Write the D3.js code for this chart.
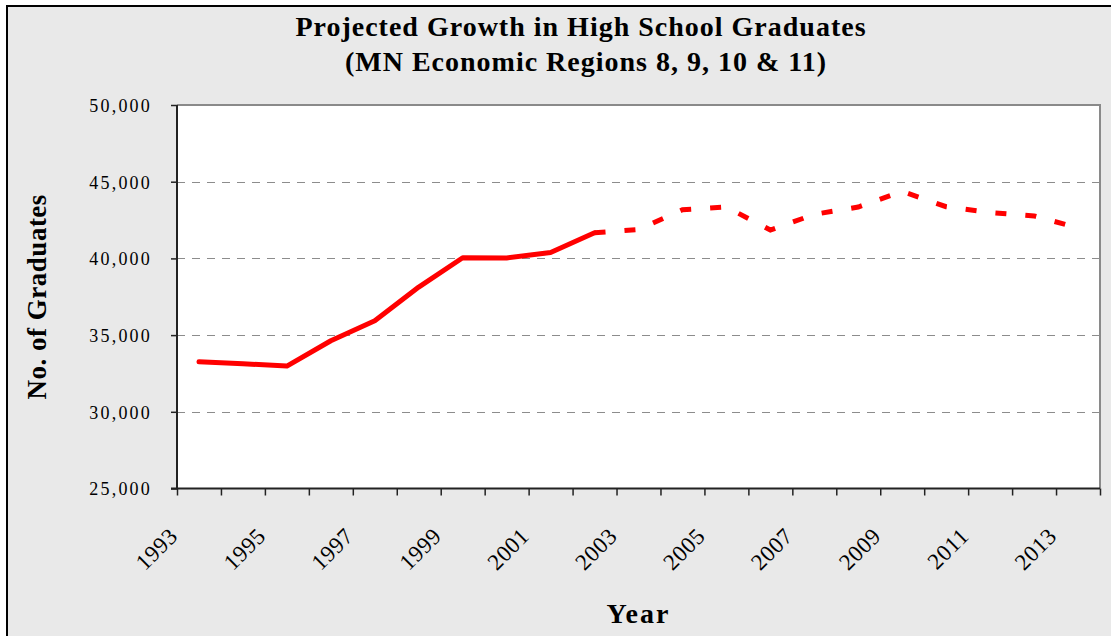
<!DOCTYPE html>
<html>
<head>
<meta charset="utf-8">
<script src="https://cdn.jsdelivr.net/npm/d3@7"></script>
<style>
  body { margin: 0; background: #fff; }
  svg text { font-family: "Times New Roman", "Liberation Serif", serif; fill: #000; }
</style>
</head>
<body>
<div id="chart"></div>
<script>
// data
var years = [1993, 1994, 1995, 1996, 1997, 1998, 1999, 2000, 2001, 2002, 2003,
             2004, 2005, 2006, 2007, 2008, 2009, 2010, 2011, 2012, 2013];
var actual = [33260, 33130, 32980, 34630, 35930, 38130, 40040, 40030, 40390, 41670,
              null, null, null, null, null, null, null, null, null, null, null];
var projected = [null, null, null, null, null, null, null, null, null, 41670,
                 41880, 43170, 43350, 41850, 42870, 43350, 44370, 43370, 42990, 42770, 41990];
var yTicks = [25000, 30000, 35000, 40000, 45000, 50000];
var gridTicks = [30000, 35000, 40000, 45000];
var xLabels = [1993, 1995, 1997, 1999, 2001, 2003, 2005, 2007, 2009, 2011, 2013];

var W = 1111, H = 636;
var margin = {top: 105, right: 11, bottom: 147.5, left: 177},
    width = W - margin.left - margin.right,
    height = H - margin.top - margin.bottom;

var svg = d3.select("#chart").append("svg")
    .attr("width", W)
    .attr("height", H);

// chart area background + outer frame
svg.append("rect")
    .attr("x", 0).attr("y", 0).attr("width", W).attr("height", H)
    .style("fill", "#fff");
svg.append("rect")
    .attr("x", 7).attr("y", 6).attr("width", W + 20).attr("height", H + 20)
    .style("fill", "#e9e9e9")
    .style("stroke", "#000")
    .style("stroke-width", 2);

var g = svg.append("g")
    .attr("transform", "translate(" + margin.left + "," + margin.top + ")");

var x = d3.scaleLinear()
    .domain([0, years.length])
    .range([0, width]);

var y = d3.scaleLinear()
    .domain([25000, 50000])
    .range([height, 0]);

function cx(i) { return x(i + 0.5); }

// plot area
g.append("rect")
    .attr("width", width)
    .attr("height", height)
    .style("fill", "#fff");

g.append("path")
    .attr("d", "M0," + y(50000) + "H" + width + "V" + height)
    .style("fill", "none")
    .style("stroke", "#8a8a8a")
    .style("stroke-width", 2);

g.selectAll(".grid")
    .data(gridTicks)
    .enter().append("line")
    .attr("class", "grid")
    .attr("x1", 0)
    .attr("x2", width)
    .attr("y1", function (d) { return Math.round(y(d)) + 0.5; })
    .attr("y2", function (d) { return Math.round(y(d)) + 0.5; })
    .style("stroke", "#8c8c8c")
    .style("stroke-width", 1)
    .style("stroke-dasharray", "8,7");

// axes
var yAxis = g.append("g")
    .attr("class", "y axis")
    .call(d3.axisLeft(y).tickValues(yTicks).tickSize(6).tickPadding(0).tickFormat(d3.format(",")));
yAxis.select(".domain").remove();
yAxis.selectAll("line").style("stroke", "#222").style("stroke-width", 1.5);
yAxis.selectAll("text")
    .attr("x", -25)
    .attr("dy", ".35em")
    .style("font-size", "18px")
    .style("letter-spacing", "2.2px")
    .style("font-family", "'Times New Roman', 'Liberation Serif', serif");

var xAxis = g.append("g")
    .attr("class", "x axis")
    .attr("transform", "translate(0," + height + ")")
    .call(d3.axisBottom(x).tickValues(d3.range(years.length + 1)).tickSize(7).tickFormat(""));
xAxis.select(".domain").remove();
xAxis.selectAll("line").style("stroke", "#222").style("stroke-width", 1.5);

g.append("line")
    .attr("x1", 0).attr("x2", 0).attr("y1", 0).attr("y2", height)
    .style("stroke", "#222").style("stroke-width", 2);
g.append("line")
    .attr("x1", -6).attr("x2", width).attr("y1", height).attr("y2", height)
    .style("stroke", "#222").style("stroke-width", 2);

g.selectAll(".xlabel")
    .data(xLabels)
    .enter().append("text")
    .attr("class", "xlabel")
    .attr("transform", function (d) {
        return "translate(" + (cx(years.indexOf(d)) - 20) + "," + (height + 49) + ") rotate(-45)";
    })
    .style("text-anchor", "end")
    .style("font-size", "23px")
    .style("letter-spacing", "0.5px")
    .text(function (d) { return d; });

// lines
var line = d3.line()
    .defined(function (d) { return d != null; })
    .x(function (d, i) { return cx(i); })
    .y(function (d) { return y(d); });

g.append("path")
    .datum(actual)
    .attr("d", line)
    .style("fill", "none")
    .style("stroke", "#ff0000")
    .style("stroke-width", 5)
    .style("stroke-linejoin", "round")
    .style("stroke-linecap", "round");

g.append("path")
    .datum(projected)
    .attr("d", line)
    .style("fill", "none")
    .style("stroke", "#ff0000")
    .style("stroke-width", 5)
    .style("stroke-dasharray", "11,19");

// titles
svg.append("text")
    .attr("x", 581)
    .attr("y", 36)
    .style("text-anchor", "middle")
    .style("font-size", "28px")
    .style("font-weight", "bold")
    .style("letter-spacing", "1px")
    .text("Projected Growth in High School Graduates");

svg.append("text")
    .attr("x", 586)
    .attr("y", 71)
    .style("text-anchor", "middle")
    .style("font-size", "28px")
    .style("font-weight", "bold")
    .style("letter-spacing", "1px")
    .text("(MN Economic Regions 8, 9, 10 & 11)");

svg.append("text")
    .attr("transform", "translate(46," + (margin.top + height / 2) + ") rotate(-90)")
    .style("text-anchor", "middle")
    .style("font-size", "27px")
    .style("font-weight", "bold")
    .style("letter-spacing", "0.5px")
    .text("No. of Graduates");

svg.append("text")
    .attr("x", margin.left + width / 2)
    .attr("y", 623)
    .style("text-anchor", "middle")
    .style("font-size", "28px")
    .style("font-weight", "bold")
    .style("letter-spacing", "2px")
    .text("Year");
</script>
</body>
</html>
